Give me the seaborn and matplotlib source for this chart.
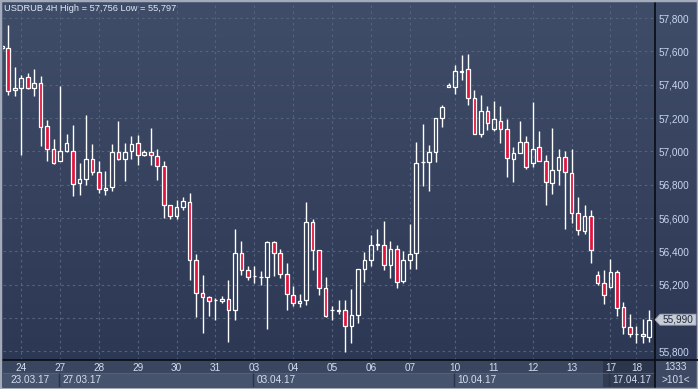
import numpy as np
import pandas as pd
import matplotlib
matplotlib.use("Agg")
import matplotlib.pyplot as plt
from matplotlib.patches import Rectangle, Polygon
from matplotlib.lines import Line2D
from matplotlib.colors import LinearSegmentedColormap
from matplotlib.transforms import blended_transform_factory
import seaborn as sns

# USDRUB 4H bars (bar 0 is cut by the left edge)
opens = [57620, 57620, 57368, 57380, 57446, 57380, 57410, 57152, 57014, 56940,
         57000, 57004, 56810, 56834, 56954, 56876, 56768, 56784, 56996, 56956,
         57000, 57050, 56978, 56996, 56972, 56910, 56676, 56610, 56666, 56696,
         56346, 56150, 56124, 56106, 56100, 56114, 56046, 56390, 56286, 56250,
         56248, 56246, 56456, 56390, 56264, 56138, 56090, 56106, 56576, 56406,
         56180, 56048, 56048, 56048, 55950, 56016, 56294, 56346, 56440, 56440,
         56316, 56414, 56220, 56346, 56390, 56934, 56936, 56996, 57200, 57386,
         57386, 57478, 57494, 57320, 57104, 57240, 57134, 57180, 57134, 56954,
         56990, 57056, 56930, 57026, 56944, 56810, 56890, 56966, 56870, 56630,
         56520, 56614, 56256, 56210, 56184, 56276, 56064, 55946, 55906, 55906,
         55886]
highs = [57640, 57756, 57506, 57460, 57470, 57496, 57454, 57190, 57076, 57394,
         57106, 57160, 56932, 57220, 57046, 56940, 56884, 57046, 57184, 57050,
         57090, 57100, 57010, 57140, 57014, 56940, 56676, 56710, 56726, 56750,
         56386, 56260, 56130, 56120, 56130, 56230, 56536, 56464, 56314, 56314,
         56280, 56464, 56464, 56416, 56330, 56194, 56144, 56696, 56596, 56406,
         56246, 56074, 56110, 56110, 56176, 56294, 56396, 56500, 56536, 56584,
         56464, 56440, 56400, 56566, 57056, 57166, 57040, 57200, 57276, 57410,
         57520, 57580, 57586, 57370, 57340, 57274, 57304, 57274, 57194, 57026,
         57184, 57094, 57296, 57124, 56980, 57140, 57014, 57000, 57014, 56726,
         56680, 56650, 56280, 56290, 56356, 56290, 56096, 56024, 55954, 55996,
         56046]
lows = [57610, 57336, 57334, 56976, 57376, 57330, 57030, 56940, 56924, 56940,
        56996, 56730, 56740, 56796, 56856, 56750, 56740, 56764, 56950, 56820,
        56956, 56920, 56970, 56920, 56830, 56600, 56596, 56596, 56646, 56226,
        56004, 55910, 56010, 55986, 56090, 55854, 55986, 56260, 56226, 56210,
        56200, 55936, 56250, 56240, 56050, 56070, 56066, 56076, 56290, 56140,
        56004, 55986, 56026, 55797, 55850, 55970, 56214, 56310, 56406, 56286,
        56240, 56180, 56210, 56296, 56296, 56790, 56760, 56936, 57144, 57386,
        57346, 57430, 57276, 57104, 57084, 57130, 57120, 57050, 56844, 56814,
        56990, 56896, 56904, 56944, 56680, 56746, 56800, 56536, 56570, 56496,
        56506, 56330, 56200, 56084, 56180, 56010, 55904, 55886, 55850, 55850,
        55856]
closes = [57630, 57360, 57382, 57440, 57380, 57410, 57146, 57014, 56930, 57004,
          57050, 56804, 56834, 56954, 56876, 56774, 56782, 56996, 56954, 56996,
          57046, 56976, 56998, 56980, 56910, 56676, 56610, 56666, 56700, 56346,
          56150, 56124, 56100, 56108, 56116, 56046, 56390, 56286, 56246, 56252,
          56244, 56456, 56390, 56264, 56144, 56090, 56104, 56576, 56406, 56180,
          56010, 56046, 56044, 55950, 56020, 56294, 56346, 56440, 56444, 56316,
          56414, 56216, 56346, 56384, 56930, 56938, 56996, 57200, 57264, 57398,
          57480, 57482, 57320, 57104, 57240, 57170, 57194, 57134, 56960, 56990,
          57056, 56906, 57014, 56944, 56816, 56890, 56966, 56876, 56630, 56530,
          56614, 56406, 56210, 56140, 56276, 56060, 55946, 55906, 55904, 55890,
          55990]

day_labels = ["24", "27", "28", "29", "30", "31", "03", "04", "05", "06",
              "07", "10", "11", "12", "13", "17", "18"]
day_bars = [3, 9, 15, 21, 27, 33, 39, 45, 51, 57, 63, 70, 76, 82, 88, 94, 98]
week_labels = ["23.03.17", "27.03.17", "03.04.17", "10.04.17", "17.04.17"]
week_bars = [0.2, 9, 39, 70, 94]
price_ticks = [55800, 56000, 56200, 56400, 56600, 56800, 57000, 57200, 57400, 57600, 57800]
last_price = 55990
title = "USDRUB 4H High = 57,756 Low = 55,797"

df = pd.DataFrame({"open": opens, "high": highs, "low": lows, "close": closes})
df["bar"] = np.arange(len(df))
df["top"] = df[["open", "close"]].max(axis=1)
df["bot"] = df[["open", "close"]].min(axis=1)
up = df[df.close >= df.open]
dn = df[df.close < df.open]

sns.set_theme(style="ticks")
plt.rcParams["font.family"] = ["Liberation Sans", "DejaVu Sans"]
fs = 7.2

W, H = 698, 389
fig = plt.figure(figsize=(W / 100, H / 100), dpi=100)
fig.patch.set_facecolor("#2e3953")

# background gradient
bg = fig.add_axes([0, 0, 1, 1], zorder=-3)
cmap = LinearSegmentedColormap.from_list("bg", ["#404d69", "#2b3652"])
bg.imshow(np.linspace(0, 1, 256).reshape(-1, 1), cmap=cmap, aspect="auto", extent=[0, 1, 0, 1])
bg.axis("off")

x0, x1 = 0.18, 100.88
px_l, px_r, px_t, px_b = 3, 655, 3, 360
ax = fig.add_axes([px_l / W, (H - px_b) / H, (px_r - px_l) / W, (px_b - px_t) / H])
ax.set_facecolor("none")

red = "#e2143d"
ax.vlines(df.bar, df.top, df.high, color="white", lw=1.0, zorder=3)
ax.vlines(df.bar, df.low, df.bot, color="white", lw=1.0, zorder=3)
ax.bar(dn.bar, dn.open - dn.close, bottom=dn.close, width=0.56,
       color=red, edgecolor="white", linewidth=0.9, zorder=4)
ax.bar(up.bar, up.close - up.open, bottom=up.open, width=0.56,
       facecolor="none", edgecolor="white", linewidth=0.9, zorder=4)

ax.set_xlim(x0, x1)
ax.set_ylim(55748, 57890)
ax.set_xticks(day_bars, day_labels)
# the 56,000 label sits under the last-price tag, as in the original
ax.set_yticks(price_ticks, ["" if abs(p - last_price) < 60 else f"{p:,}" for p in price_ticks])
ax.yaxis.tick_right()
ax.grid(True, color="#56637f", ls=(0, (2.2, 3)), lw=0.8)
ax.tick_params(axis="x", length=0, pad=2.5, labelsize=fs, labelcolor="#d4deef")
ax.tick_params(axis="y", length=0, pad=2.5, labelsize=fs, labelcolor="#c9d7ef")
for s in ["left", "top"]:
    ax.spines[s].set_visible(False)
for s in ["right", "bottom"]:
    ax.spines[s].set_color("#0c1019")
    ax.spines[s].set_linewidth(1.3)

# last price tag
tr = blended_transform_factory(ax.transAxes, ax.transData)
xa = lambda px: (px - px_l) / (px_r - px_l)
d = 33
tag = Polygon([(xa(655), last_price), (xa(660), last_price + d), (xa(696), last_price + d),
               (xa(696), last_price - d), (xa(660), last_price - d)],
              closed=True, transform=tr, clip_on=False, facecolor="#c7ccd5",
              edgecolor="#9aa1ad", lw=0.6, zorder=10)
ax.add_patch(tag)
ax.text(xa(678), last_price, f"{last_price:,}", transform=tr, ha="center", va="center",
        fontsize=fs, color="#1f2a42", zorder=11, clip_on=False)

# bottom date strip
strip = fig.add_axes([px_l / W, 2 / H, (px_r - px_l) / W, 27 / H], zorder=-1)
strip.set_xlim(x0, x1)
strip.set_ylim(0, 1)
strip.axhspan(0.52, 1, color="#3a4560")
strip.axhspan(0, 0.52, color="#46536d")
strip.axhline(0.52, color="#56627c", lw=0.6)
strip.vlines([b - 0.2 for b in week_bars[1:]], 0, 0.52, color="#28324a", lw=1.0)
strip.axvspan(92.85, x1, color="#1a2234", alpha=0.45, lw=0)
for b, lab in zip(week_bars, week_labels):
    strip.text(b + (1.2 if b < 1 else 0.3), 0.26, lab, ha="left", va="center",
               fontsize=fs, color="#d4deef")
strip.axis("off")

# bottom-right counter box
fig.add_artist(Rectangle((px_r / W, 2 / H), (W - 2 - px_r) / W, 27 / H,
                         transform=fig.transFigure, color="#3d4862", zorder=-0.5))
fig.text(676 / W, 1 - 367 / H, "1333", ha="center", va="center", fontsize=fs, color="#d4deef")
fig.text(676 / W, 1 - 380 / H, ">101<", ha="center", va="center", fontsize=fs, color="#d4deef")

# separators and frame
fig.add_artist(Line2D([px_r / W, px_r / W], [2 / H, (H - px_b) / H], transform=fig.transFigure,
                      color="#0c1019", lw=1.3))
fig.add_artist(Line2D([px_r / W, 1], [(H - px_b) / H, (H - px_b) / H], transform=fig.transFigure,
                      color="#0c1019", lw=1.3))
fig.add_artist(Rectangle((0, 0), 1, 1, transform=fig.transFigure, fill=False,
                         edgecolor="#a3abbb", lw=2.5))

fig.text(4 / W, 1 - 8.5 / H, title, ha="left", va="center", fontsize=6.7, color="#e0e8f6")

fig.savefig("out.png", dpi=100)
